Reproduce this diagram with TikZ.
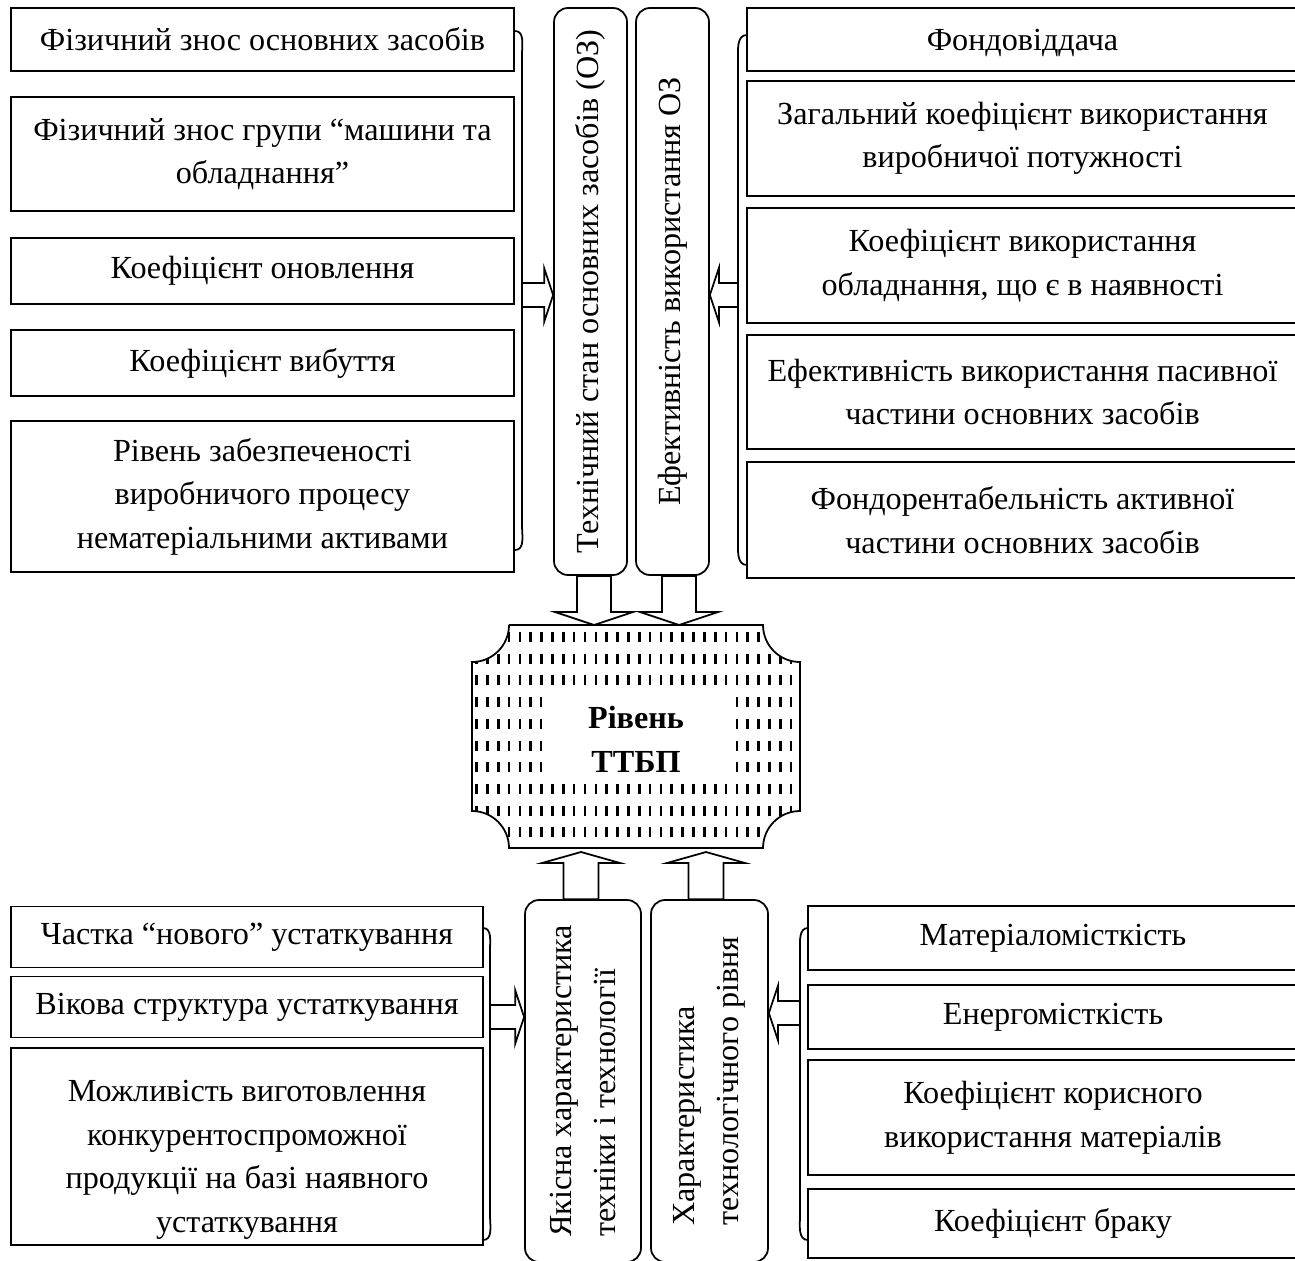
\documentclass[tikz,border=0pt]{standalone}
\usepackage{fontspec}
\setmainfont{Liberation Serif}
\usetikzlibrary{calc}

\tikzset{
	box/.style={draw, line width=1pt, align=center, inner sep=0pt},
	vbox/.style={draw, line width=1pt, rounded corners=0.28cm, rotate=90, align=left, inner sep=0pt},
	brace/.style={line width=1pt},
	% block arrow: #1 half shaft, #2 half head, #3 head length
	barrow/.style n args={3}{line width=1pt, to path={
		($(\tikztostart)!#1!90:(\tikztotarget)$)
		-- ($(\tikztotarget)!#3!(\tikztostart)!#1!-90:(\tikztostart)$)
		-- ($(\tikztotarget)!#3!(\tikztostart)!#2!-90:(\tikztostart)$)
		-- (\tikztotarget)
		-- ($(\tikztotarget)!#3!(\tikztostart)!#2!90:(\tikztostart)$)
		-- ($(\tikztotarget)!#3!(\tikztostart)!#1!90:(\tikztostart)$)
		-- ($(\tikztostart)!#1!-90:(\tikztotarget)$) -- cycle}}
}

\begin{document}
\begin{tikzpicture}[font=\fontsize{18.3pt}{24.8pt}\selectfont]
	\useasboundingbox (0,0) rectangle (25.9,-25.2);
	
	% Technical state factors (top left)
	\node[box, minimum width=10.06cm, minimum height=1.26cm] (l1) at (5.25,-0.79) {Фізичний знос основних засобів};
	\node[box, minimum width=10.06cm, minimum height=2.28cm] (l2) at (5.25,-3.08) {Фізичний знос групи “машини та\\обладнання”};
	\node[box, minimum width=10.06cm, minimum height=1.32cm] (l3) at (5.25,-5.42) {Коефіцієнт оновлення};
	\node[box, minimum width=10.06cm, minimum height=1.32cm] (l4) at (5.25,-7.26) {Коефіцієнт вибуття};
	\node[box, minimum width=10.06cm, minimum height=3.02cm] (l5) at (5.25,-9.93) {Рівень забезпеченості\\виробничого процесу\\нематеріальними активами};
	
	% Efficiency factors (top right)
	\node[box, minimum width=11.02cm, minimum height=1.26cm, text depth=0pt] (r1) at (20.45,-0.79) {Фондовіддача};
	\node[box, minimum width=11.02cm, minimum height=2.30cm] (r2) at (20.45,-2.77) {Загальний коефіцієнт використання\\виробничої потужності};
	\node[box, minimum width=11.02cm, minimum height=2.30cm] (r3) at (20.45,-5.31) {Коефіцієнт використання\\обладнання, що є в наявності};
	\node[box, minimum width=11.02cm, minimum height=2.28cm] (r4) at (20.45,-7.84) {Ефективність використання пасивної\\частини основних засобів};
	\node[box, minimum width=11.02cm, minimum height=2.32cm] (r5) at (20.45,-10.40) {Фондорентабельність активної\\частини основних засобів};
	
	% Groups (vertical)
	\node[vbox, minimum width=11.34cm, minimum height=1.46cm] (t1) at (11.81,-5.83) {Технічний стан основних засобів (ОЗ)};
	\node[vbox, minimum width=11.34cm, minimum height=1.46cm] (t2) at (13.45,-5.83) {Ефективність використання ОЗ};
	\node[vbox, minimum width=7.24cm, minimum height=2.32cm] (b1) at (11.66,-21.62) {Якісна характеристика\\техніки і технології};
	\node[vbox, minimum width=7.24cm, minimum height=2.34cm] (b2) at (14.19,-21.62) {Характеристика\\технологічного рівня};
	
	% Technology factors (bottom left)
	\node[box, minimum width=9.44cm, minimum height=1.22cm] (bl1) at (4.94,-18.74) {Частка “нового” устаткування};
	\node[box, minimum width=9.44cm, minimum height=1.22cm] (bl2) at (4.94,-20.14) {Вікова структура устаткування};
	\node[box, minimum width=9.44cm, minimum height=3.94cm] (bl3) at (4.94,-22.93) {\rule{0pt}{0.95cm}Можливість виготовлення\\конкурентоспроможної\\продукції на базі наявного\\устаткування};
	
	% Technological level factors (bottom right)
	\node[box, minimum width=9.80cm, minimum height=1.28cm] (br1) at (21.06,-18.76) {Матеріаломісткість};
	\node[box, minimum width=9.80cm, minimum height=1.28cm] (br2) at (21.06,-20.34) {Енергомісткість};
	\node[box, minimum width=9.80cm, minimum height=2.30cm] (br3) at (21.06,-22.35) {Коефіцієнт корисного\\використання матеріалів};
	\node[box, minimum width=9.80cm, minimum height=1.38cm] (br4) at (21.06,-24.47) {Коефіцієнт браку};
	
	% Brackets
	\draw[brace] (10.30,-0.62) to[out=0, in=90] (10.44,-1.10) -- (10.44,-10.50) to[out=-90, in=0] (10.30,-11.00);
	\draw[brace] (14.94,-0.70) to[out=180, in=90] (14.76,-1.20) -- (14.76,-10.80) to[out=-90, in=180] (14.94,-11.30);
	\draw[brace] (9.66,-18.56) to[out=0, in=90] (9.80,-19.00) -- (9.80,-24.30) to[out=-90, in=0] (9.66,-24.80);
	\draw[brace] (16.16,-18.56) to[out=180, in=90] (16.00,-19.00) -- (16.00,-24.30) to[out=-90, in=180] (16.16,-24.80);
	
	% Central block
	\begin{scope}
		\clip (10.18,-12.50) -- (15.26,-12.50) arc[start angle=180, end angle=270, radius=0.74]
			-- (16.00,-16.22) arc[start angle=90, end angle=180, radius=0.74]
			-- (10.18,-16.96) arc[start angle=0, end angle=90, radius=0.74]
			-- (9.44,-13.24) arc[start angle=270, end angle=360, radius=0.74] -- cycle;
		\foreach \i in {0,...,30}
			\draw[line width=1.5pt, dash pattern=on 0.2cm off 0.234cm] ({9.53+0.217*\i},-12.64) -- ++(0,-4.5);
	\end{scope}
	\fill[white] (10.84,-13.76) rectangle (14.60,-15.60);
	\draw[line width=1pt] (10.18,-12.50) -- (15.26,-12.50) arc[start angle=180, end angle=270, radius=0.74]
		-- (16.00,-16.22) arc[start angle=90, end angle=180, radius=0.74]
		-- (10.18,-16.96) arc[start angle=0, end angle=90, radius=0.74]
		-- (9.44,-13.24) arc[start angle=270, end angle=360, radius=0.74] -- cycle;
	\node[align=center, font=\fontsize{18.3pt}{25pt}\selectfont\bfseries] (lvl) at (12.72,-14.78) {Рівень\\ТТБП};
	
	% Arrow ends
	\coordinate (bkl) at (10.44,-5.90);
	\coordinate (bkr) at (14.76,-5.90);
	\coordinate (bkbl) at (9.80,-20.34);
	\coordinate (bkbr) at (16.00,-20.26);
	\coordinate (c1) at (11.88,-12.50);
	\coordinate (c2) at (13.58,-12.50);
	\coordinate (c3) at (11.62,-17.04);
	\coordinate (c4) at (14.12,-17.04);
	
	% Arrows
	\draw[barrow={0.24cm}{0.54cm}{0.18cm}] (bkl) to (t1.north |- bkl);
	\draw[barrow={0.24cm}{0.54cm}{0.18cm}] (bkr) to (t2.south |- bkr);
	\draw[barrow={0.24cm}{0.54cm}{0.18cm}] (bkbl) to (b1.north |- bkbl);
	\draw[barrow={0.24cm}{0.54cm}{0.18cm}] (bkbr) to (b2.south |- bkbr);
	\draw[barrow={0.34cm}{0.78cm}{0.26cm}] (t1.west -| c1) to (c1);
	\draw[barrow={0.34cm}{0.78cm}{0.26cm}] (t2.west -| c2) to (c2);
	\draw[barrow={0.35cm}{0.78cm}{0.22cm}] (b1.east -| c3) to (c3);
	\draw[barrow={0.35cm}{0.78cm}{0.22cm}] (b2.east -| c4) to (c4);
\end{tikzpicture}
\end{document}
